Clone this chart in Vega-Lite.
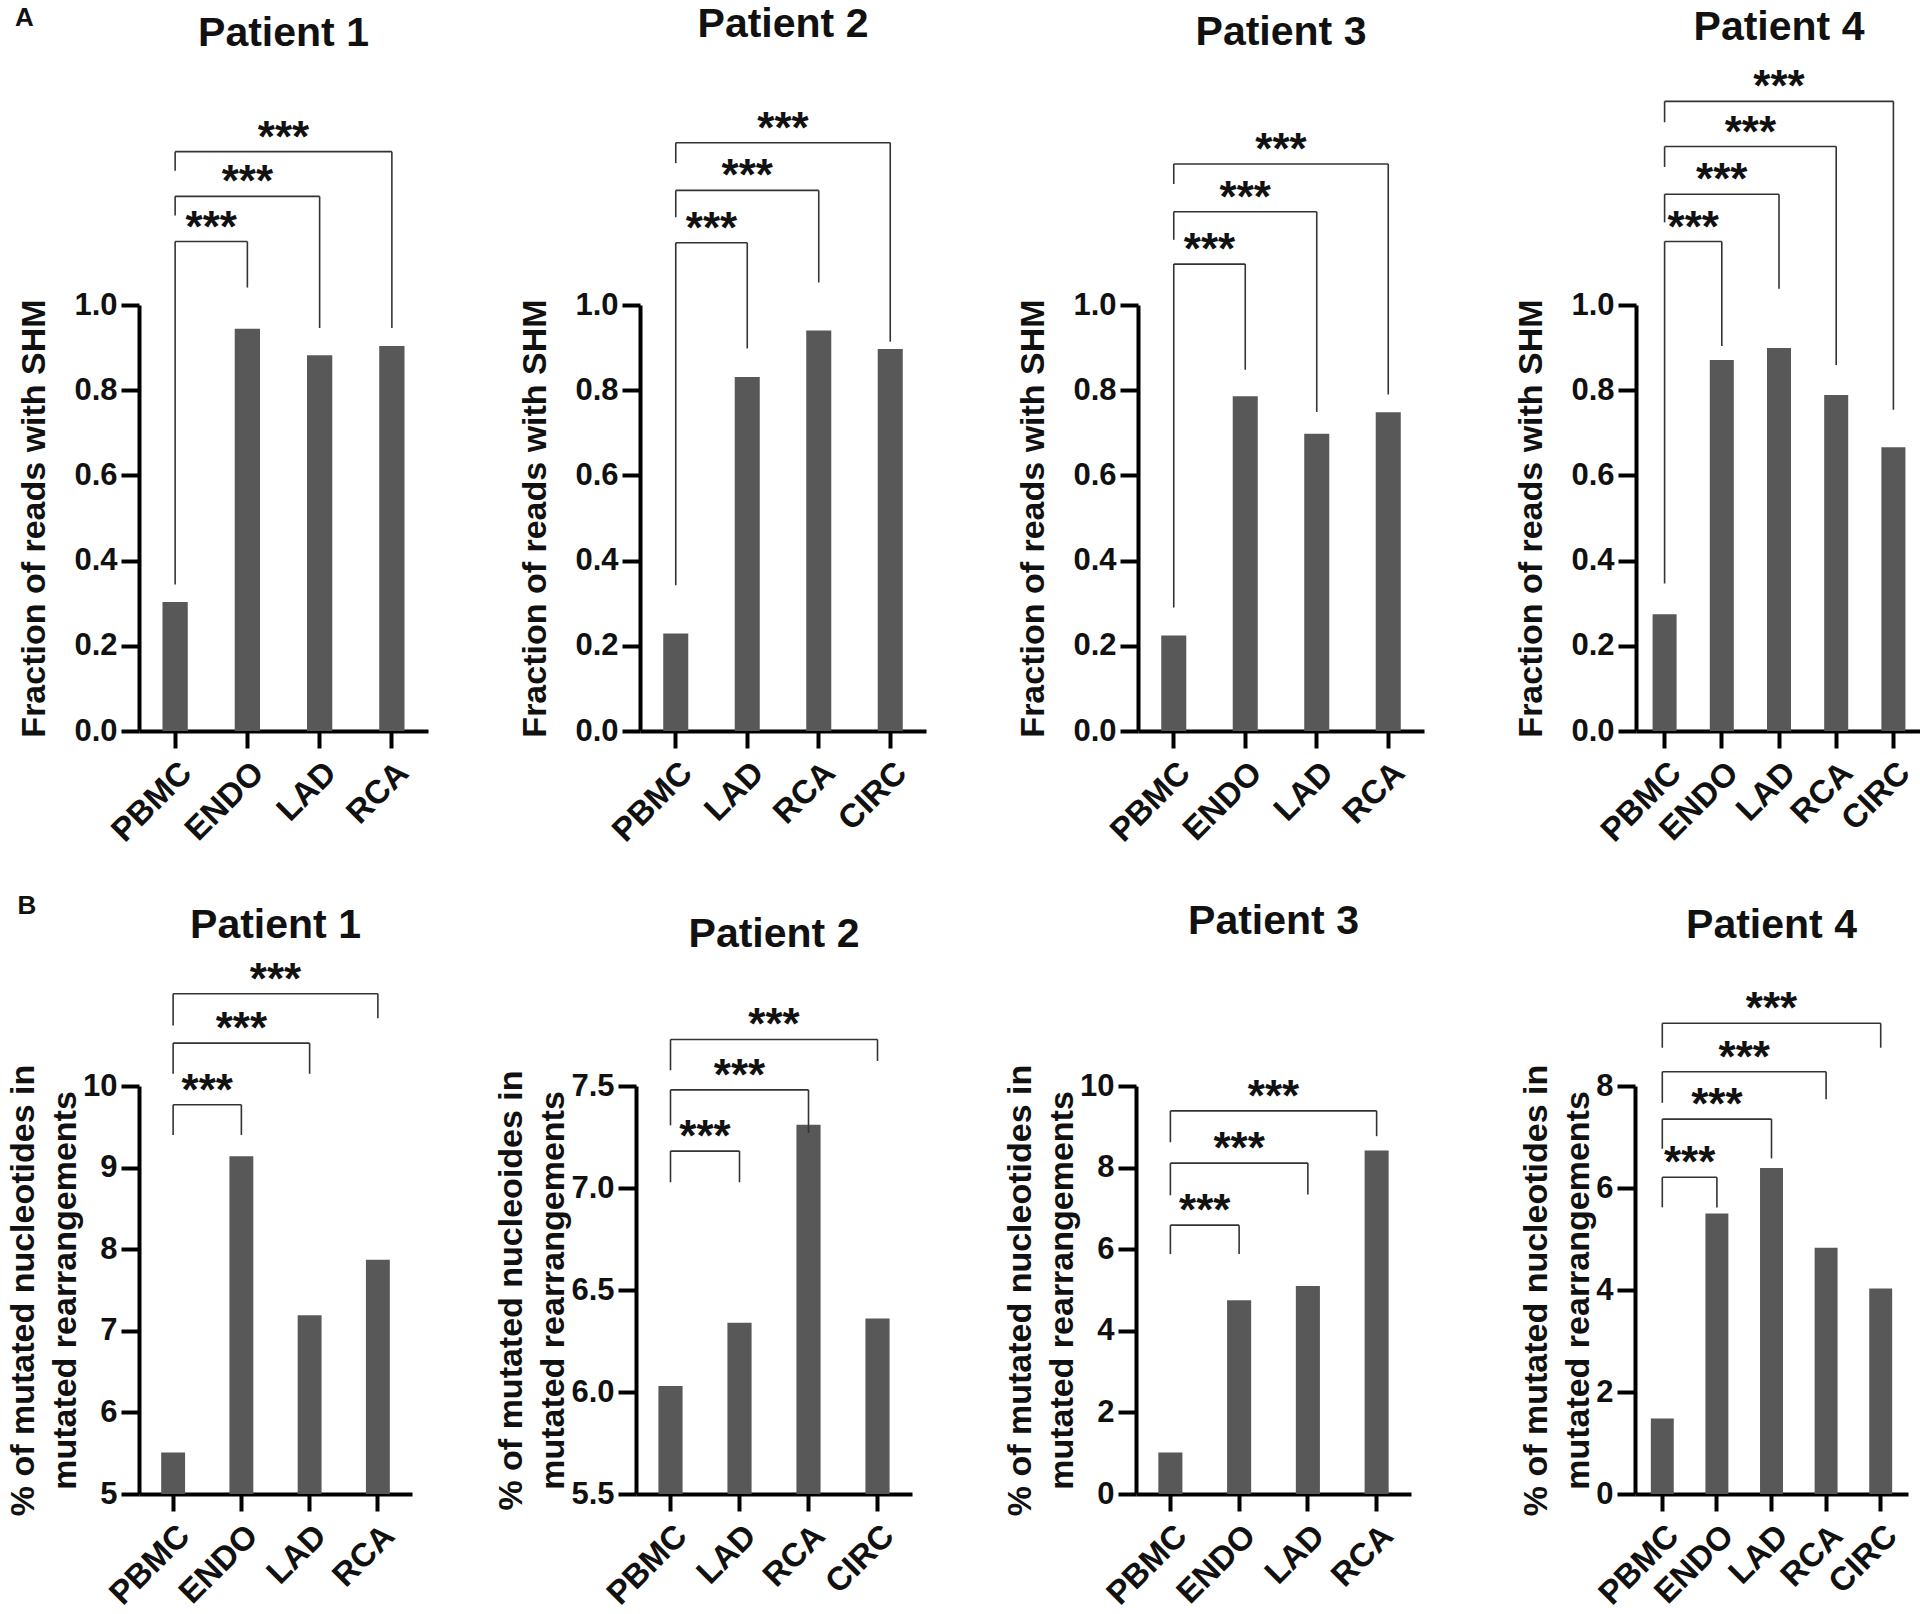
{
"$schema": "https://vega.github.io/schema/vega-lite/v6.json",
"background": "white",
"padding": {"left": 6, "top": 3, "right": 2, "bottom": 2},
"datasets": {
"bars": [
{"panel":"A1","tissue":"PBMC","value":0.303},{"panel":"A1","tissue":"ENDO","value":0.944},{"panel":"A1","tissue":"LAD","value":0.882},{"panel":"A1","tissue":"RCA","value":0.904},
{"panel":"A2","tissue":"PBMC","value":0.229},{"panel":"A2","tissue":"LAD","value":0.831},{"panel":"A2","tissue":"RCA","value":0.940},{"panel":"A2","tissue":"CIRC","value":0.897},
{"panel":"A3","tissue":"PBMC","value":0.224},{"panel":"A3","tissue":"ENDO","value":0.786},{"panel":"A3","tissue":"LAD","value":0.698},{"panel":"A3","tissue":"RCA","value":0.748},
{"panel":"A4","tissue":"PBMC","value":0.274},{"panel":"A4","tissue":"ENDO","value":0.871},{"panel":"A4","tissue":"LAD","value":0.899},{"panel":"A4","tissue":"RCA","value":0.789},{"panel":"A4","tissue":"CIRC","value":0.666},
{"panel":"B1","tissue":"PBMC","value":5.51},{"panel":"B1","tissue":"ENDO","value":9.14},{"panel":"B1","tissue":"LAD","value":7.19},{"panel":"B1","tissue":"RCA","value":7.87},
{"panel":"B2","tissue":"PBMC","value":6.03},{"panel":"B2","tissue":"LAD","value":6.34},{"panel":"B2","tissue":"RCA","value":7.31},{"panel":"B2","tissue":"CIRC","value":6.36},
{"panel":"B3","tissue":"PBMC","value":1.02},{"panel":"B3","tissue":"ENDO","value":4.75},{"panel":"B3","tissue":"LAD","value":5.10},{"panel":"B3","tissue":"RCA","value":8.42},
{"panel":"B4","tissue":"PBMC","value":1.48},{"panel":"B4","tissue":"ENDO","value":5.50},{"panel":"B4","tissue":"LAD","value":6.39},{"panel":"B4","tissue":"RCA","value":4.83},{"panel":"B4","tissue":"CIRC","value":4.03}
],
"brackets": [
{"panel":"A1","from":"PBMC","to":"ENDO","level":1.149,"fromEnd":0.344,"toEnd":1.041,"label":"***","textAt":"PBMC","textSide":"edge"},
{"panel":"A1","from":"PBMC","to":"LAD","level":1.255,"fromEnd":1.210,"toEnd":0.946,"label":"***","textAt":"ENDO","textSide":"center"},
{"panel":"A1","from":"PBMC","to":"RCA","level":1.360,"fromEnd":1.315,"toEnd":0.946,"label":"***","textAt":"ENDO","textSide":"edge"},
{"panel":"A2","from":"PBMC","to":"LAD","level":1.146,"fromEnd":0.342,"toEnd":0.898,"label":"***","textAt":"PBMC","textSide":"edge"},
{"panel":"A2","from":"PBMC","to":"RCA","level":1.269,"fromEnd":1.206,"toEnd":1.053,"label":"***","textAt":"LAD","textSide":"center"},
{"panel":"A2","from":"PBMC","to":"CIRC","level":1.381,"fromEnd":1.333,"toEnd":0.914,"label":"***","textAt":"LAD","textSide":"edge"},
{"panel":"A3","from":"PBMC","to":"ENDO","level":1.096,"fromEnd":0.290,"toEnd":0.848,"label":"***","textAt":"PBMC","textSide":"edge"},
{"panel":"A3","from":"PBMC","to":"LAD","level":1.219,"fromEnd":1.153,"toEnd":0.749,"label":"***","textAt":"ENDO","textSide":"center"},
{"panel":"A3","from":"PBMC","to":"RCA","level":1.331,"fromEnd":1.284,"toEnd":0.790,"label":"***","textAt":"ENDO","textSide":"edge"},
{"panel":"A4","from":"PBMC","to":"ENDO","level":1.149,"fromEnd":0.346,"toEnd":0.904,"label":"***","textAt":"PBMC","textSide":"edge"},
{"panel":"A4","from":"PBMC","to":"LAD","level":1.260,"fromEnd":1.194,"toEnd":1.038,"label":"***","textAt":"ENDO","textSide":"center"},
{"panel":"A4","from":"PBMC","to":"RCA","level":1.372,"fromEnd":1.324,"toEnd":0.859,"label":"***","textAt":"ENDO","textSide":"edge"},
{"panel":"A4","from":"PBMC","to":"CIRC","level":1.478,"fromEnd":1.429,"toEnd":0.754,"label":"***","textAt":"LAD","textSide":"center"},
{"panel":"B1","from":"PBMC","to":"ENDO","level":9.77,"fromEnd":9.40,"toEnd":9.40,"label":"***","textAt":"PBMC","textSide":"edge"},
{"panel":"B1","from":"PBMC","to":"LAD","level":10.525,"fromEnd":10.15,"toEnd":10.15,"label":"***","textAt":"ENDO","textSide":"center"},
{"panel":"B1","from":"PBMC","to":"RCA","level":11.13,"fromEnd":10.74,"toEnd":10.83,"label":"***","textAt":"ENDO","textSide":"edge"},
{"panel":"B2","from":"PBMC","to":"LAD","level":7.181,"fromEnd":7.028,"toEnd":7.028,"label":"***","textAt":"PBMC","textSide":"edge"},
{"panel":"B2","from":"PBMC","to":"RCA","level":7.481,"fromEnd":7.307,"toEnd":7.270,"label":"***","textAt":"LAD","textSide":"center"},
{"panel":"B2","from":"PBMC","to":"CIRC","level":7.728,"fromEnd":7.577,"toEnd":7.623,"label":"***","textAt":"LAD","textSide":"edge"},
{"panel":"B3","from":"PBMC","to":"ENDO","level":6.59,"fromEnd":5.88,"toEnd":5.88,"label":"***","textAt":"PBMC","textSide":"edge"},
{"panel":"B3","from":"PBMC","to":"LAD","level":8.11,"fromEnd":7.32,"toEnd":7.34,"label":"***","textAt":"ENDO","textSide":"center"},
{"panel":"B3","from":"PBMC","to":"RCA","level":9.39,"fromEnd":8.62,"toEnd":8.77,"label":"***","textAt":"ENDO","textSide":"edge"},
{"panel":"B4","from":"PBMC","to":"ENDO","level":6.21,"fromEnd":5.62,"toEnd":5.62,"label":"***","textAt":"PBMC","textSide":"edge"},
{"panel":"B4","from":"PBMC","to":"LAD","level":7.35,"fromEnd":6.77,"toEnd":6.58,"label":"***","textAt":"ENDO","textSide":"center"},
{"panel":"B4","from":"PBMC","to":"RCA","level":8.28,"fromEnd":7.67,"toEnd":7.74,"label":"***","textAt":"ENDO","textSide":"edge"},
{"panel":"B4","from":"PBMC","to":"CIRC","level":9.23,"fromEnd":8.75,"toEnd":8.75,"label":"***","textAt":"LAD","textSide":"center"}
]
},
"config": {
"view": {"stroke": null},
"font": "Liberation Sans",
"axis": {"domainColor": "#000", "domainWidth": 4, "tickColor": "#000", "tickWidth": 4, "grid": false,
"labelFont": "Liberation Sans", "labelFontWeight": "bold", "labelFontSize": 31, "labelColor": "#111",
"titleFont": "Liberation Sans", "titleFontWeight": "bold", "titleFontSize": 34, "titleColor": "#111", "titleLineHeight": 42},
"axisY": {"tickSize": 18, "labelPadding": 4, "titlePadding": 22},
"axisX": {"tickSize": 17, "labelAngle": -45, "labelAlign": "right", "labelBaseline": "top", "labelPadding": 8, "labelFontSize": 33},
"title": {"font": "Liberation Sans", "fontSize": 41, "fontWeight": "bold", "color": "#111", "anchor": "middle", "frame": "group"},
"bar": {"color": "#585858"},
"rule": {"color": "#333", "strokeWidth": 1.6},
"text": {"font": "Liberation Sans", "fontSize": 44, "fontWeight": "bold", "color": "#111", "baseline": "alphabetic", "align": "center"}
},
"bounds": "flush",
"center": true,
"spacing": 781,
"vconcat": [
{
"title": {"text": "A", "anchor": "start", "frame": "bounds", "fontSize": 26, "offset": -27, "dx": -3},
"bounds": "flush",
"spacing": 212,
"hconcat": [
{"width": 289, "height": 426, "title": {"text": "Patient 1", "offset": 62},
"layer": [
{"data": {"name": "bars"}, "transform": [{"filter": "datum.panel === 'A1'"}], "mark": {"type": "bar", "width": {"band": 0.35}, "clip": true},
"encoding": {"x": {"field": "tissue", "type": "nominal", "title": null, "scale": {"domain": ["PBMC","ENDO","LAD","RCA"], "paddingInner": 0, "paddingOuter": 0}},
"y": {"field": "value", "type": "quantitative", "scale": {"domain": [0, 1], "nice": false}, "axis": {"title": "Fraction of reads with SHM", "values": [0,0.2,0.4,0.6,0.8,1], "format": ".1f"}}}},
{"data": {"name": "brackets"}, "transform": [{"filter": "datum.panel === 'A1'"}], "mark": "rule",
"encoding": {"x": {"field": "from", "type": "nominal", "bandPosition": 0.5, "title": null}, "x2": {"field": "to", "bandPosition": 0.5}, "y": {"field": "level", "type": "quantitative"}}},
{"data": {"name": "brackets"}, "transform": [{"filter": "datum.panel === 'A1'"}], "mark": "rule",
"encoding": {"x": {"field": "from", "type": "nominal", "bandPosition": 0.5, "title": null}, "y": {"field": "level", "type": "quantitative"}, "y2": {"field": "fromEnd"}}},
{"data": {"name": "brackets"}, "transform": [{"filter": "datum.panel === 'A1'"}], "mark": "rule",
"encoding": {"x": {"field": "to", "type": "nominal", "bandPosition": 0.5, "title": null}, "y": {"field": "level", "type": "quantitative"}, "y2": {"field": "toEnd"}}},
{"data": {"name": "brackets"}, "transform": [{"filter": "datum.panel === 'A1' && datum.textSide === 'center'"}], "mark": "text",
"encoding": {"x": {"field": "textAt", "type": "nominal", "bandPosition": 0.5, "title": null}, "y": {"field": "level", "type": "quantitative"}, "text": {"field": "label"}}},
{"data": {"name": "brackets"}, "transform": [{"filter": "datum.panel === 'A1' && datum.textSide === 'edge'"}], "mark": "text",
"encoding": {"x": {"field": "textAt", "type": "nominal", "bandPosition": 1, "title": null}, "y": {"field": "level", "type": "quantitative"}, "text": {"field": "label"}}}
]},
{"width": 286, "height": 426, "title": {"text": "Patient 2", "offset": 62},
"layer": [
{"data": {"name": "bars"}, "transform": [{"filter": "datum.panel === 'A2'"}], "mark": {"type": "bar", "width": {"band": 0.35}, "clip": true},
"encoding": {"x": {"field": "tissue", "type": "nominal", "title": null, "scale": {"domain": ["PBMC","LAD","RCA","CIRC"], "paddingInner": 0, "paddingOuter": 0}},
"y": {"field": "value", "type": "quantitative", "scale": {"domain": [0, 1], "nice": false}, "axis": {"title": "Fraction of reads with SHM", "values": [0,0.2,0.4,0.6,0.8,1], "format": ".1f"}}}},
{"data": {"name": "brackets"}, "transform": [{"filter": "datum.panel === 'A2'"}], "mark": "rule",
"encoding": {"x": {"field": "from", "type": "nominal", "bandPosition": 0.5, "title": null}, "x2": {"field": "to", "bandPosition": 0.5}, "y": {"field": "level", "type": "quantitative"}}},
{"data": {"name": "brackets"}, "transform": [{"filter": "datum.panel === 'A2'"}], "mark": "rule",
"encoding": {"x": {"field": "from", "type": "nominal", "bandPosition": 0.5, "title": null}, "y": {"field": "level", "type": "quantitative"}, "y2": {"field": "fromEnd"}}},
{"data": {"name": "brackets"}, "transform": [{"filter": "datum.panel === 'A2'"}], "mark": "rule",
"encoding": {"x": {"field": "to", "type": "nominal", "bandPosition": 0.5, "title": null}, "y": {"field": "level", "type": "quantitative"}, "y2": {"field": "toEnd"}}},
{"data": {"name": "brackets"}, "transform": [{"filter": "datum.panel === 'A2' && datum.textSide === 'center'"}], "mark": "text",
"encoding": {"x": {"field": "textAt", "type": "nominal", "bandPosition": 0.5, "title": null}, "y": {"field": "level", "type": "quantitative"}, "text": {"field": "label"}}},
{"data": {"name": "brackets"}, "transform": [{"filter": "datum.panel === 'A2' && datum.textSide === 'edge'"}], "mark": "text",
"encoding": {"x": {"field": "textAt", "type": "nominal", "bandPosition": 1, "title": null}, "y": {"field": "level", "type": "quantitative"}, "text": {"field": "label"}}}
]},
{"width": 286, "height": 426, "title": {"text": "Patient 3", "offset": 75},
"layer": [
{"data": {"name": "bars"}, "transform": [{"filter": "datum.panel === 'A3'"}], "mark": {"type": "bar", "width": {"band": 0.35}, "clip": true},
"encoding": {"x": {"field": "tissue", "type": "nominal", "title": null, "scale": {"domain": ["PBMC","ENDO","LAD","RCA"], "paddingInner": 0, "paddingOuter": 0}},
"y": {"field": "value", "type": "quantitative", "scale": {"domain": [0, 1], "nice": false}, "axis": {"title": "Fraction of reads with SHM", "values": [0,0.2,0.4,0.6,0.8,1], "format": ".1f"}}}},
{"data": {"name": "brackets"}, "transform": [{"filter": "datum.panel === 'A3'"}], "mark": "rule",
"encoding": {"x": {"field": "from", "type": "nominal", "bandPosition": 0.5, "title": null}, "x2": {"field": "to", "bandPosition": 0.5}, "y": {"field": "level", "type": "quantitative"}}},
{"data": {"name": "brackets"}, "transform": [{"filter": "datum.panel === 'A3'"}], "mark": "rule",
"encoding": {"x": {"field": "from", "type": "nominal", "bandPosition": 0.5, "title": null}, "y": {"field": "level", "type": "quantitative"}, "y2": {"field": "fromEnd"}}},
{"data": {"name": "brackets"}, "transform": [{"filter": "datum.panel === 'A3'"}], "mark": "rule",
"encoding": {"x": {"field": "to", "type": "nominal", "bandPosition": 0.5, "title": null}, "y": {"field": "level", "type": "quantitative"}, "y2": {"field": "toEnd"}}},
{"data": {"name": "brackets"}, "transform": [{"filter": "datum.panel === 'A3' && datum.textSide === 'center'"}], "mark": "text",
"encoding": {"x": {"field": "textAt", "type": "nominal", "bandPosition": 0.5, "title": null}, "y": {"field": "level", "type": "quantitative"}, "text": {"field": "label"}}},
{"data": {"name": "brackets"}, "transform": [{"filter": "datum.panel === 'A3' && datum.textSide === 'edge'"}], "mark": "text",
"encoding": {"x": {"field": "textAt", "type": "nominal", "bandPosition": 1, "title": null}, "y": {"field": "level", "type": "quantitative"}, "text": {"field": "label"}}}
]},
{"width": 286, "height": 426, "title": {"text": "Patient 4", "offset": 17},
"layer": [
{"data": {"name": "bars"}, "transform": [{"filter": "datum.panel === 'A4'"}], "mark": {"type": "bar", "width": {"band": 0.42}, "clip": true},
"encoding": {"x": {"field": "tissue", "type": "nominal", "title": null, "scale": {"domain": ["PBMC","ENDO","LAD","RCA","CIRC"], "paddingInner": 0, "paddingOuter": 0}},
"y": {"field": "value", "type": "quantitative", "scale": {"domain": [0, 1], "nice": false}, "axis": {"title": "Fraction of reads with SHM", "values": [0,0.2,0.4,0.6,0.8,1], "format": ".1f"}}}},
{"data": {"name": "brackets"}, "transform": [{"filter": "datum.panel === 'A4'"}], "mark": "rule",
"encoding": {"x": {"field": "from", "type": "nominal", "bandPosition": 0.5, "title": null}, "x2": {"field": "to", "bandPosition": 0.5}, "y": {"field": "level", "type": "quantitative"}}},
{"data": {"name": "brackets"}, "transform": [{"filter": "datum.panel === 'A4'"}], "mark": "rule",
"encoding": {"x": {"field": "from", "type": "nominal", "bandPosition": 0.5, "title": null}, "y": {"field": "level", "type": "quantitative"}, "y2": {"field": "fromEnd"}}},
{"data": {"name": "brackets"}, "transform": [{"filter": "datum.panel === 'A4'"}], "mark": "rule",
"encoding": {"x": {"field": "to", "type": "nominal", "bandPosition": 0.5, "title": null}, "y": {"field": "level", "type": "quantitative"}, "y2": {"field": "toEnd"}}},
{"data": {"name": "brackets"}, "transform": [{"filter": "datum.panel === 'A4' && datum.textSide === 'center'"}], "mark": "text",
"encoding": {"x": {"field": "textAt", "type": "nominal", "bandPosition": 0.5, "title": null}, "y": {"field": "level", "type": "quantitative"}, "text": {"field": "label"}}},
{"data": {"name": "brackets"}, "transform": [{"filter": "datum.panel === 'A4' && datum.textSide === 'edge'"}], "mark": "text",
"encoding": {"x": {"field": "textAt", "type": "nominal", "bandPosition": 1, "title": null}, "y": {"field": "level", "type": "quantitative"}, "text": {"field": "label"}}}
]}
]
},
{
"title": {"text": "B", "anchor": "start", "frame": "bounds", "fontSize": 26, "offset": -18, "dx": 11},
"bounds": "flush",
"spacing": 224,
"hconcat": [
{"width": 273, "height": 408, "title": {"text": "Patient 1", "offset": 12},
"layer": [
{"data": {"name": "bars"}, "transform": [{"filter": "datum.panel === 'B1'"}], "mark": {"type": "bar", "width": {"band": 0.35}, "clip": true},
"encoding": {"x": {"field": "tissue", "type": "nominal", "title": null, "scale": {"domain": ["PBMC","ENDO","LAD","RCA"], "paddingInner": 0, "paddingOuter": 0}},
"y": {"field": "value", "type": "quantitative", "scale": {"domain": [5, 10], "nice": false, "zero": false}, "axis": {"title": ["% of mutated nucleotides in", "mutated rearrangements"], "titlePadding": 0, "values": [5,6,7,8,9,10], "format": "d"}}}},
{"data": {"name": "brackets"}, "transform": [{"filter": "datum.panel === 'B1'"}], "mark": "rule",
"encoding": {"x": {"field": "from", "type": "nominal", "bandPosition": 0.5, "title": null}, "x2": {"field": "to", "bandPosition": 0.5}, "y": {"field": "level", "type": "quantitative"}}},
{"data": {"name": "brackets"}, "transform": [{"filter": "datum.panel === 'B1'"}], "mark": "rule",
"encoding": {"x": {"field": "from", "type": "nominal", "bandPosition": 0.5, "title": null}, "y": {"field": "level", "type": "quantitative"}, "y2": {"field": "fromEnd"}}},
{"data": {"name": "brackets"}, "transform": [{"filter": "datum.panel === 'B1'"}], "mark": "rule",
"encoding": {"x": {"field": "to", "type": "nominal", "bandPosition": 0.5, "title": null}, "y": {"field": "level", "type": "quantitative"}, "y2": {"field": "toEnd"}}},
{"data": {"name": "brackets"}, "transform": [{"filter": "datum.panel === 'B1' && datum.textSide === 'center'"}], "mark": "text",
"encoding": {"x": {"field": "textAt", "type": "nominal", "bandPosition": 0.5, "title": null}, "y": {"field": "level", "type": "quantitative"}, "text": {"field": "label"}}},
{"data": {"name": "brackets"}, "transform": [{"filter": "datum.panel === 'B1' && datum.textSide === 'edge'"}], "mark": "text",
"encoding": {"x": {"field": "textAt", "type": "nominal", "bandPosition": 1, "title": null}, "y": {"field": "level", "type": "quantitative"}, "text": {"field": "label"}}}
]},
{"width": 276, "height": 408, "title": {"text": "Patient 2", "offset": 48},
"layer": [
{"data": {"name": "bars"}, "transform": [{"filter": "datum.panel === 'B2'"}], "mark": {"type": "bar", "width": {"band": 0.35}, "clip": true},
"encoding": {"x": {"field": "tissue", "type": "nominal", "title": null, "scale": {"domain": ["PBMC","LAD","RCA","CIRC"], "paddingInner": 0, "paddingOuter": 0}},
"y": {"field": "value", "type": "quantitative", "scale": {"domain": [5.5, 7.5], "nice": false, "zero": false}, "axis": {"title": ["% of mutated nucleoides in", "mutated rearrangements"], "titlePadding": 0, "values": [5.5,6,6.5,7,7.5], "format": ".1f"}}}},
{"data": {"name": "brackets"}, "transform": [{"filter": "datum.panel === 'B2'"}], "mark": "rule",
"encoding": {"x": {"field": "from", "type": "nominal", "bandPosition": 0.5, "title": null}, "x2": {"field": "to", "bandPosition": 0.5}, "y": {"field": "level", "type": "quantitative"}}},
{"data": {"name": "brackets"}, "transform": [{"filter": "datum.panel === 'B2'"}], "mark": "rule",
"encoding": {"x": {"field": "from", "type": "nominal", "bandPosition": 0.5, "title": null}, "y": {"field": "level", "type": "quantitative"}, "y2": {"field": "fromEnd"}}},
{"data": {"name": "brackets"}, "transform": [{"filter": "datum.panel === 'B2'"}], "mark": "rule",
"encoding": {"x": {"field": "to", "type": "nominal", "bandPosition": 0.5, "title": null}, "y": {"field": "level", "type": "quantitative"}, "y2": {"field": "toEnd"}}},
{"data": {"name": "brackets"}, "transform": [{"filter": "datum.panel === 'B2' && datum.textSide === 'center'"}], "mark": "text",
"encoding": {"x": {"field": "textAt", "type": "nominal", "bandPosition": 0.5, "title": null}, "y": {"field": "level", "type": "quantitative"}, "text": {"field": "label"}}},
{"data": {"name": "brackets"}, "transform": [{"filter": "datum.panel === 'B2' && datum.textSide === 'edge'"}], "mark": "text",
"encoding": {"x": {"field": "textAt", "type": "nominal", "bandPosition": 1, "title": null}, "y": {"field": "level", "type": "quantitative"}, "text": {"field": "label"}}}
]},
{"width": 275, "height": 408, "title": {"text": "Patient 3", "offset": 121},
"layer": [
{"data": {"name": "bars"}, "transform": [{"filter": "datum.panel === 'B3'"}], "mark": {"type": "bar", "width": {"band": 0.35}, "clip": true},
"encoding": {"x": {"field": "tissue", "type": "nominal", "title": null, "scale": {"domain": ["PBMC","ENDO","LAD","RCA"], "paddingInner": 0, "paddingOuter": 0}},
"y": {"field": "value", "type": "quantitative", "scale": {"domain": [0, 10], "nice": false}, "axis": {"title": ["% of mutated nucleotides in", "mutated rearrangements"], "titlePadding": 0, "values": [0,2,4,6,8,10], "format": "d"}}}},
{"data": {"name": "brackets"}, "transform": [{"filter": "datum.panel === 'B3'"}], "mark": "rule",
"encoding": {"x": {"field": "from", "type": "nominal", "bandPosition": 0.5, "title": null}, "x2": {"field": "to", "bandPosition": 0.5}, "y": {"field": "level", "type": "quantitative"}}},
{"data": {"name": "brackets"}, "transform": [{"filter": "datum.panel === 'B3'"}], "mark": "rule",
"encoding": {"x": {"field": "from", "type": "nominal", "bandPosition": 0.5, "title": null}, "y": {"field": "level", "type": "quantitative"}, "y2": {"field": "fromEnd"}}},
{"data": {"name": "brackets"}, "transform": [{"filter": "datum.panel === 'B3'"}], "mark": "rule",
"encoding": {"x": {"field": "to", "type": "nominal", "bandPosition": 0.5, "title": null}, "y": {"field": "level", "type": "quantitative"}, "y2": {"field": "toEnd"}}},
{"data": {"name": "brackets"}, "transform": [{"filter": "datum.panel === 'B3' && datum.textSide === 'center'"}], "mark": "text",
"encoding": {"x": {"field": "textAt", "type": "nominal", "bandPosition": 0.5, "title": null}, "y": {"field": "level", "type": "quantitative"}, "text": {"field": "label"}}},
{"data": {"name": "brackets"}, "transform": [{"filter": "datum.panel === 'B3' && datum.textSide === 'edge'"}], "mark": "text",
"encoding": {"x": {"field": "textAt", "type": "nominal", "bandPosition": 1, "title": null}, "y": {"field": "level", "type": "quantitative"}, "text": {"field": "label"}}}
]},
{"width": 273, "height": 408, "title": {"text": "Patient 4", "offset": 41},
"layer": [
{"data": {"name": "bars"}, "transform": [{"filter": "datum.panel === 'B4'"}], "mark": {"type": "bar", "width": {"band": 0.42}, "clip": true},
"encoding": {"x": {"field": "tissue", "type": "nominal", "title": null, "scale": {"domain": ["PBMC","ENDO","LAD","RCA","CIRC"], "paddingInner": 0, "paddingOuter": 0}},
"y": {"field": "value", "type": "quantitative", "scale": {"domain": [0, 8], "nice": false}, "axis": {"title": ["% of mutated nucleotides in", "mutated rearrangements"], "titlePadding": 0, "values": [0,2,4,6,8], "format": "d"}}}},
{"data": {"name": "brackets"}, "transform": [{"filter": "datum.panel === 'B4'"}], "mark": "rule",
"encoding": {"x": {"field": "from", "type": "nominal", "bandPosition": 0.5, "title": null}, "x2": {"field": "to", "bandPosition": 0.5}, "y": {"field": "level", "type": "quantitative"}}},
{"data": {"name": "brackets"}, "transform": [{"filter": "datum.panel === 'B4'"}], "mark": "rule",
"encoding": {"x": {"field": "from", "type": "nominal", "bandPosition": 0.5, "title": null}, "y": {"field": "level", "type": "quantitative"}, "y2": {"field": "fromEnd"}}},
{"data": {"name": "brackets"}, "transform": [{"filter": "datum.panel === 'B4'"}], "mark": "rule",
"encoding": {"x": {"field": "to", "type": "nominal", "bandPosition": 0.5, "title": null}, "y": {"field": "level", "type": "quantitative"}, "y2": {"field": "toEnd"}}},
{"data": {"name": "brackets"}, "transform": [{"filter": "datum.panel === 'B4' && datum.textSide === 'center'"}], "mark": "text",
"encoding": {"x": {"field": "textAt", "type": "nominal", "bandPosition": 0.5, "title": null}, "y": {"field": "level", "type": "quantitative"}, "text": {"field": "label"}}},
{"data": {"name": "brackets"}, "transform": [{"filter": "datum.panel === 'B4' && datum.textSide === 'edge'"}], "mark": "text",
"encoding": {"x": {"field": "textAt", "type": "nominal", "bandPosition": 1, "title": null}, "y": {"field": "level", "type": "quantitative"}, "text": {"field": "label"}}}
]}
]
}
]
}
